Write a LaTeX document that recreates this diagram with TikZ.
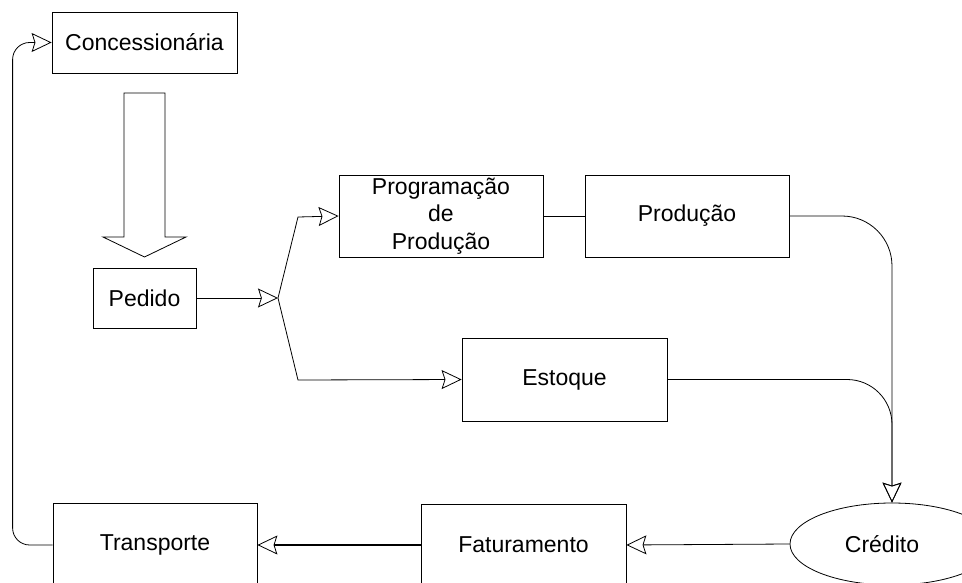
\documentclass[tikz,border=0pt]{standalone}
\usepackage{fontspec}
\setmainfont{Liberation Sans}
\usetikzlibrary{arrows.meta,shapes.geometric}
\tikzstyle{BoxNode}=[rectangle, draw=black, line width=0.8pt, inner sep=0pt, align=center, font=\fontsize{23}{27.5}\selectfont]
\tikzstyle{OvalNode}=[BoxNode, ellipse]
\tikzstyle{FlowEdge}=[->, line width=0.8pt]
\tikzstyle{BoldFlowEdge}=[FlowEdge, line width=1.6pt]
\tikzset{>={Stealth[open, length=20pt, width=19pt, inset=3pt, line width=0.8pt]}}

\begin{document}
\begin{tikzpicture}[x=1pt, y=-1pt]
\clip (0,0) rectangle (962,583);

\node[BoxNode, minimum width=185pt, minimum height=61pt](conc) at (144.5,42.5) {Concessionária};
\node[BoxNode, minimum width=103pt, minimum height=60pt](ped) at (144.5,298) {Pedido};
\node[BoxNode, minimum width=204pt, minimum height=82pt](prog) at (441,216) {Programação\\de\\Produção};
\node[BoxNode, minimum width=204pt, minimum height=82pt](prod) at (687,216) {Produção};
\node[BoxNode, minimum width=205pt, minimum height=83pt](est) at (564.5,379.5) {Estoque};
\node[OvalNode, minimum width=204pt, minimum height=82pt](cred) at (892,544) {\hspace*{-20pt}Crédito};
\node[BoxNode, minimum width=205pt, minimum height=82pt](fat) at (523.5,545) {Faturamento};
\node[BoxNode, minimum width=204pt, minimum height=84pt](trans) at (155,545) {Transporte};
\coordinate (jct) at (278,298);

% seta larga Concessionaria -> Pedido
\draw[line width=0.8pt] (124,93) -- (165,93) -- (165,237) -- (186,237) -- (144.5,257)
  -- (103,237) -- (124,237) -- cycle;

\draw[FlowEdge](ped.east) -- (jct);
\draw[FlowEdge](jct) -- ++(20,-81) -- (prog.west);
\draw[FlowEdge](jct) -- ++(20,82) -- (est.west);
\draw[line width=0.8pt](prog.east) -- (prod.west);
\draw[FlowEdge, rounded corners=50pt](prod.east) -| (cred.north);
\draw[FlowEdge, rounded corners=45pt](est.east) -| (cred.north);
\draw[FlowEdge](cred.west) -- (fat.east);
\draw[BoldFlowEdge](fat.west) -- (trans.east);
\draw[FlowEdge, rounded corners=17pt](trans.west) -- ++(-40,0) |- (conc.west);
\end{tikzpicture}
\end{document}
